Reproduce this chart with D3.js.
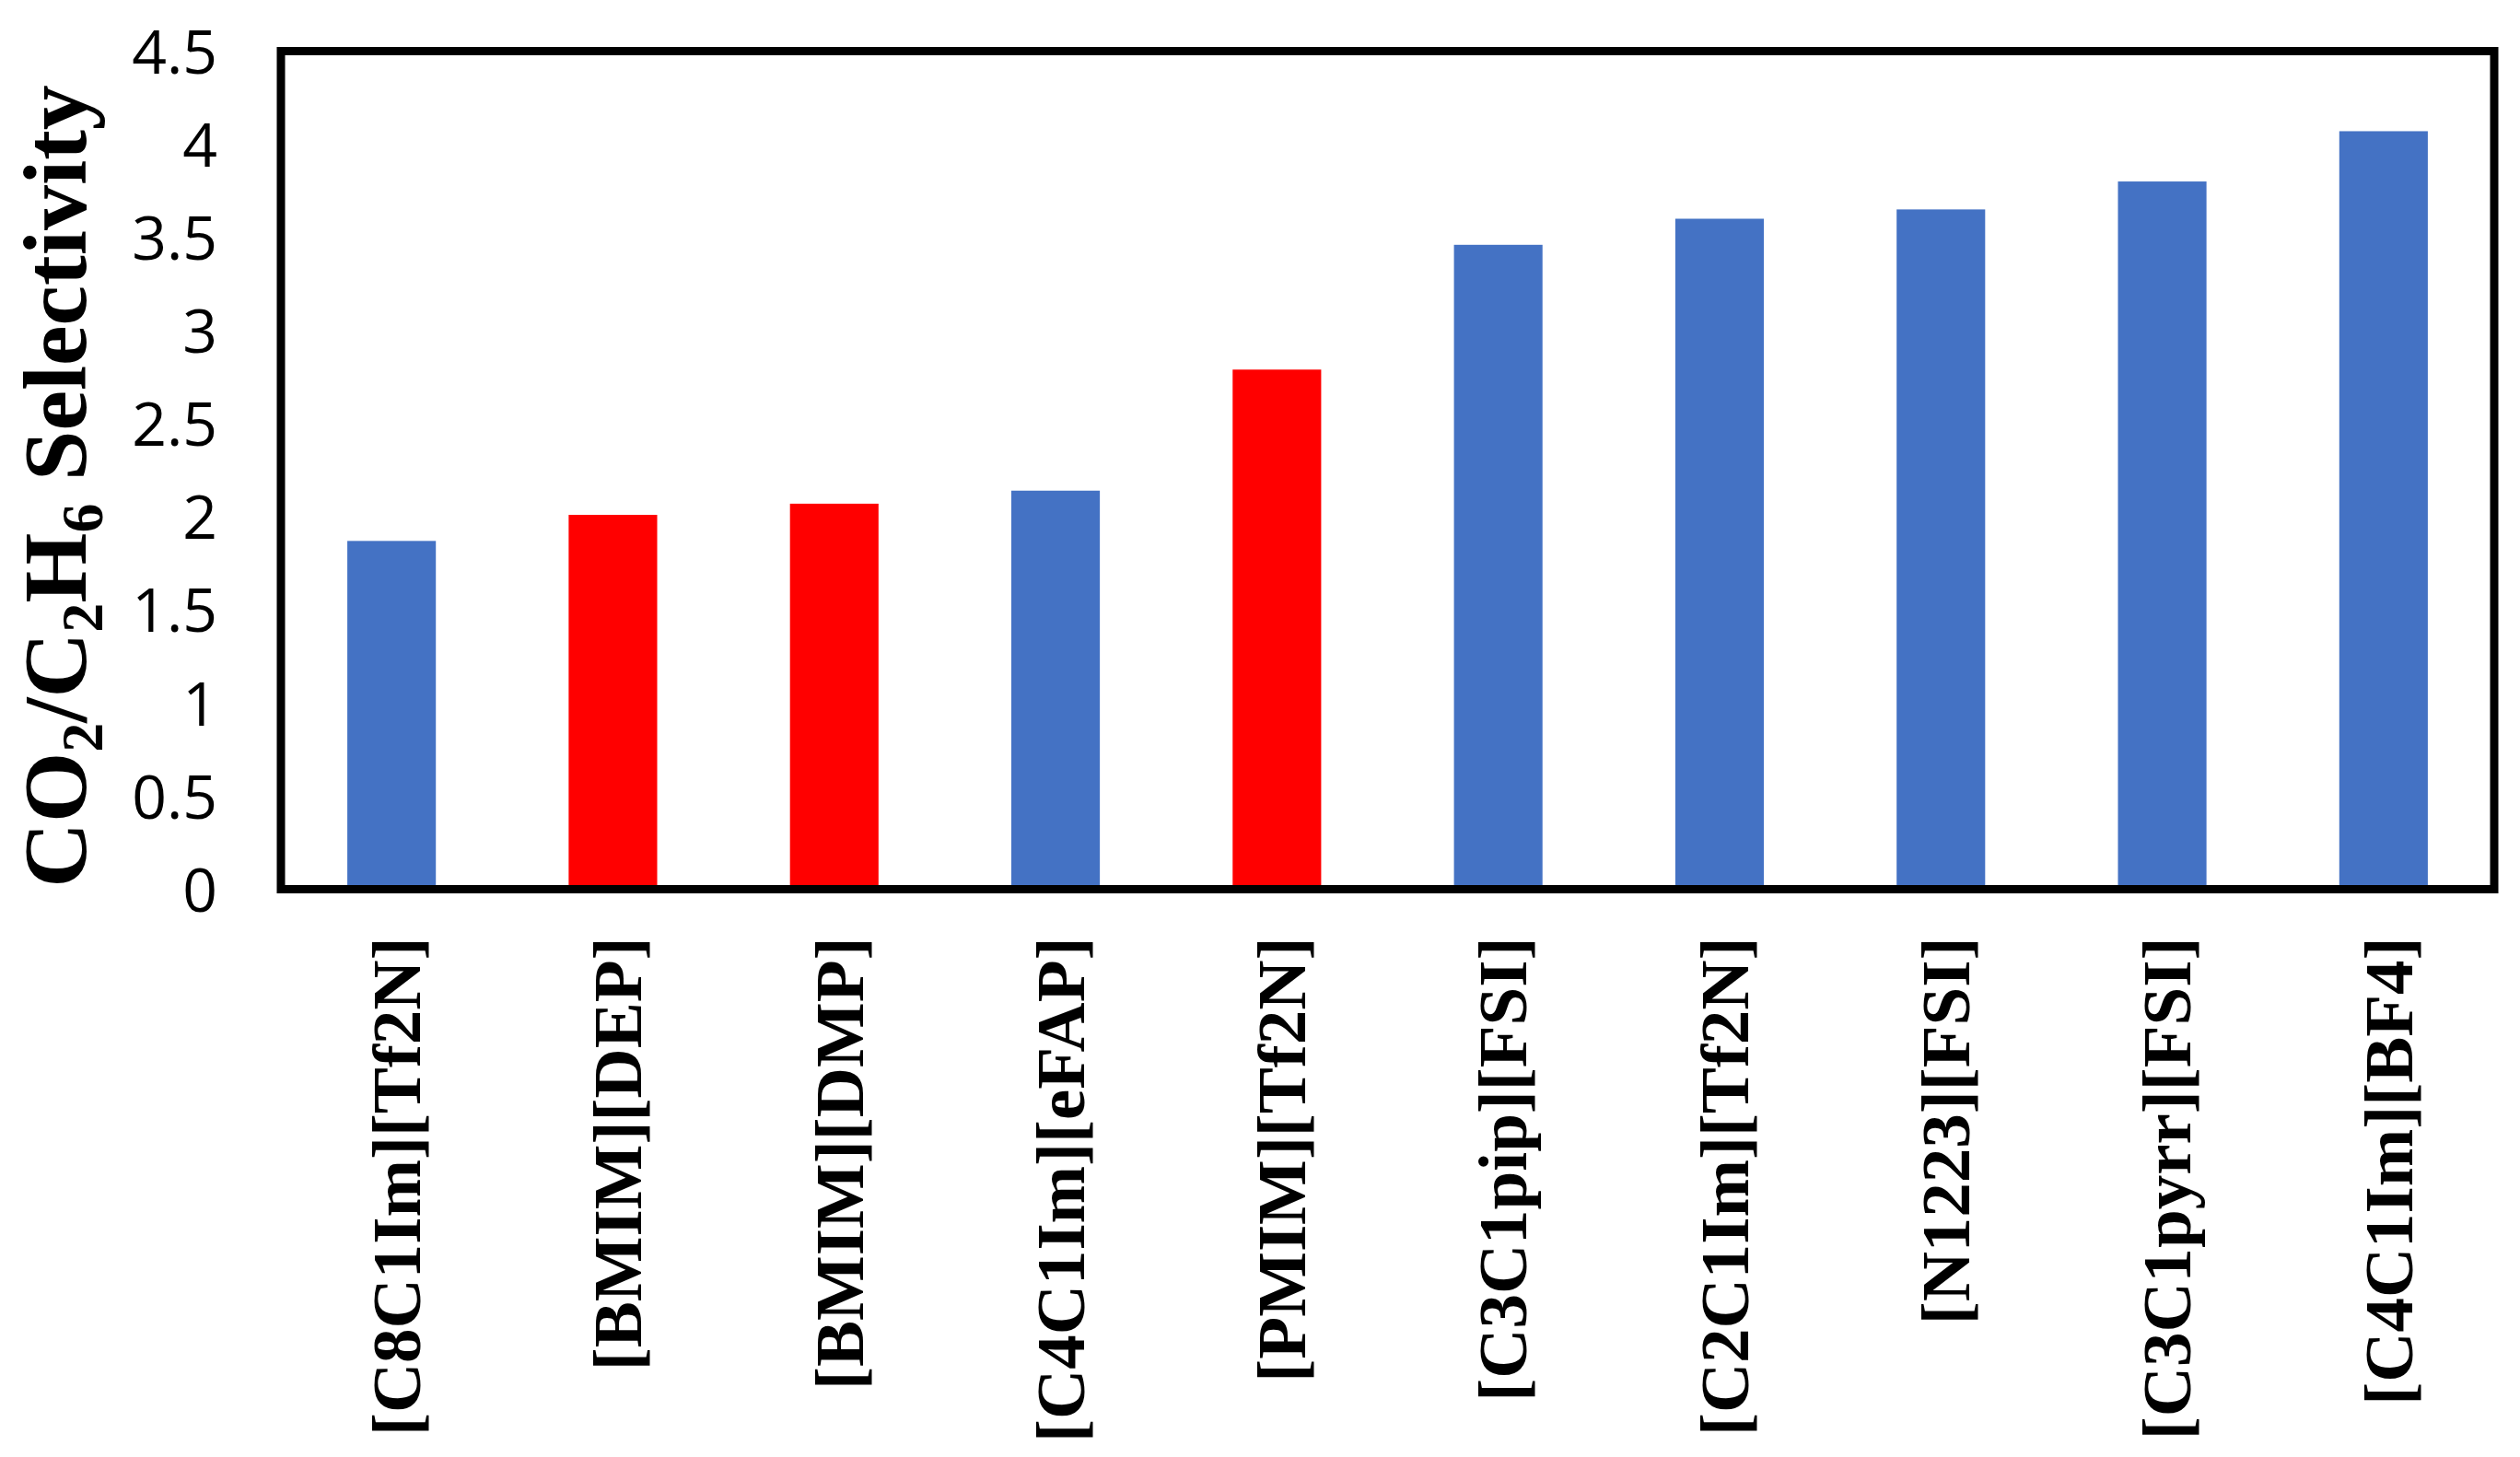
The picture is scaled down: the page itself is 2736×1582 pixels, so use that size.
<!DOCTYPE html>
<html>
<head>
<meta charset="utf-8">
<script src="https://cdn.jsdelivr.net/npm/d3@7"></script>
<style>
  html, body { margin: 0; padding: 0; background: #fff; }
  svg { display: block; }
</style>
</head>
<body>
<svg id="chart" width="2736" height="1582"></svg>
<script>
// ---- data ----
const categories = ["[C8C1Im][Tf2N]", "[BMIM][DEP]", "[BMIM][DMP]", "[C4C1Im][eFAP]", "[PMIM][Tf2N]",
                    "[C3C1pip][FSI]", "[C2C1Im][Tf2N]", "[N1223][FSI]", "[C3C1pyrr][FSI]", "[C4C1Im][BF4]"];
const values = [1.87, 2.01, 2.07, 2.14, 2.79, 3.46, 3.60, 3.65, 3.80, 4.07];
const highlighted = ["[BMIM][DEP]", "[BMIM][DMP]", "[PMIM][Tf2N]"];
const yTicks = [0, 0.5, 1, 1.5, 2, 2.5, 3, 3.5, 4, 4.5];
const yTickLabels = ["0", "0.5", "1", "1.5", "2", "2.5", "3", "3.5", "4", "4.5"];
const titleParts = [["CO", false], ["2", true], ["/C", false], ["2", true], ["H", false], ["6", true], [" Selectivity", false]];

// ---- layout ----
(function () {
const svg = d3.select("#chart");
const pLeft = 305, pRight = 2708, pTop = 55.5, pBottom = 965.5;
const blue = "#4472C4", red = "#FF0000";

svg.append("rect").attr("width", 2736).attr("height", 1582).attr("fill", "#fff");

const x = d3.scaleBand().domain(categories).range([pLeft, pRight]).paddingInner(0.6).paddingOuter(0.3);
const y = d3.scaleLinear().domain([0, 4.5]).range([pBottom, pTop]);

// bars
svg.append("g").selectAll("rect").data(categories).join("rect")
  .attr("x", d => x(d))
  .attr("width", x.bandwidth())
  .attr("y", (d, i) => y(values[i]))
  .attr("height", (d, i) => y(0) - y(values[i]))
  .attr("fill", d => highlighted.includes(d) ? red : blue);

// frame
svg.append("rect")
  .attr("x", pLeft).attr("y", pTop)
  .attr("width", pRight - pLeft).attr("height", pBottom - pTop)
  .attr("fill", "none").attr("stroke", "#000").attr("stroke-width", 9);

// y axis
const yAxis = svg.append("g").attr("transform", `translate(${pLeft},0)`)
  .call(d3.axisLeft(y).tickValues(yTicks).tickSize(0).tickPadding(69)
        .tickFormat((d, i) => yTickLabels[i]));
yAxis.select(".domain").remove();
yAxis.selectAll("text")
  .attr("font-family", "'Open Sans', 'Noto Sans', sans-serif")
  .attr("font-size", 66).attr("fill", "#000").attr("dy", "0.36em");

// x axis
const xAxis = svg.append("g").attr("transform", `translate(0,${pBottom})`)
  .call(d3.axisBottom(x).tickSize(0));
xAxis.select(".domain").remove();
xAxis.selectAll("text")
  .attr("font-family", "'Liberation Serif', 'Times New Roman', serif")
  .attr("font-weight", "bold")
  .attr("font-size", 75).attr("fill", "#000")
  .attr("transform", "rotate(-90)")
  .attr("text-anchor", "end")
  .attr("x", -52).attr("y", 0).attr("dy", "0.41em");

// y title
const title = svg.append("text")
  .attr("transform", "translate(93,528) rotate(-90)")
  .attr("text-anchor", "middle")
  .attr("font-family", "'Liberation Serif', 'Times New Roman', serif")
  .attr("font-weight", "bold")
  .attr("font-size", 98).attr("fill", "#000");
let prevSub = false;
titleParts.forEach(([t, sub]) => {
  const ts = title.append("tspan").text(t);
  if (sub) { ts.attr("font-size", 64).attr("dy", prevSub ? 0 : 18); }
  else if (prevSub) { ts.attr("dy", -18); }
  prevSub = sub;
});
})();
</script>
</body>
</html>
